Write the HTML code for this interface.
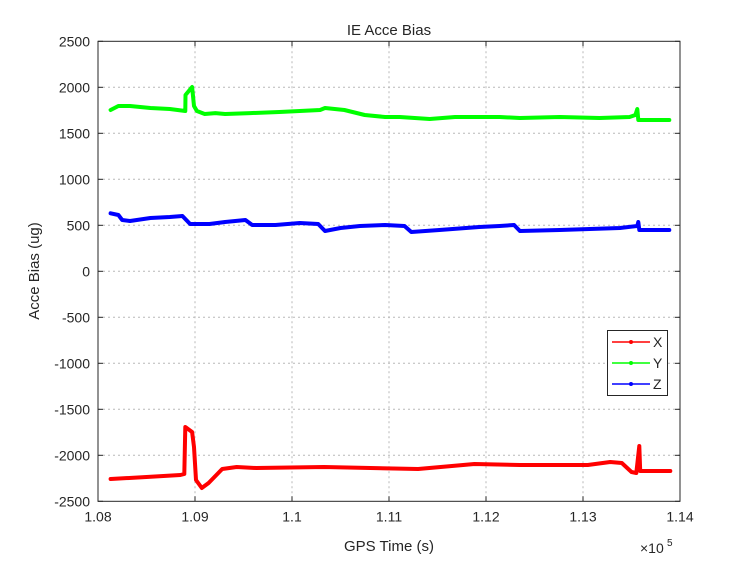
<!DOCTYPE html>
<html><head><meta charset="utf-8"><style>
body{margin:0;background:#fff;}
svg text{font-family:"Liberation Sans",Arial,sans-serif;fill:#262626;}
</style></head><body>
<svg id="chart" width="750" height="563" xmlns="http://www.w3.org/2000/svg">
<rect width="750" height="563" fill="#fff"/>
<g id="grid"></g><g id="axes"></g><g id="series"></g><g id="legend"></g>
</svg>
<script>
const xTicks=[1.08,1.09,1.10,1.11,1.12,1.13,1.14];
const xTickLabels=["1.08","1.09","1.1","1.11","1.12","1.13","1.14"];
const yTicks=[2500,2000,1500,1000,500,0,-500,-1000,-1500,-2000,-2500];
const xX=[1.0813,1.0850,1.0885,1.0889,1.0890,1.0897,1.0899,1.0901,1.0907,1.0914,1.0928,1.0943,1.0963,1.1033,1.1130,1.1188,1.1235,1.1305,1.1328,1.1340,1.1350,1.1355,1.1358,1.1359,1.1390];
const xVals=[-2258,-2236,-2214,-2203,-1692,-1747,-1910,-2268,-2355,-2301,-2149,-2127,-2138,-2127,-2149,-2095,-2105,-2105,-2073,-2084,-2182,-2192,-1899,-2171,-2171];
const yX=[1.0813,1.0821,1.0833,1.0854,1.0874,1.0890,1.08902,1.0897,1.0899,1.0902,1.0910,1.0921,1.0931,1.0957,1.0987,1.1029,1.1034,1.1054,1.1075,1.1096,1.1111,1.1142,1.1168,1.1214,1.1235,1.1276,1.1317,1.1348,1.1354,1.1356,1.1357,1.1389];
const yVals=[1753,1797,1797,1775,1764,1742,1916,2003,1797,1742,1710,1720,1710,1720,1731,1753,1775,1753,1699,1677,1677,1655,1677,1677,1666,1677,1666,1677,1699,1764,1645,1645];
const zX=[1.0813,1.0821,1.0825,1.0833,1.0854,1.0874,1.0887,1.0890,1.0895,1.0915,1.0931,1.0952,1.0959,1.0983,1.1008,1.1027,1.1034,1.1050,1.1070,1.1096,1.1116,1.1123,1.1152,1.1193,1.1214,1.1229,1.1235,1.1276,1.1338,1.1356,1.1357,1.1358,1.1389];
const zVals=[630,612,558,547,579,590,601,568,514,514,536,558,503,503,525,514,438,471,492,503,492,427,449,482,492,503,438,449,471,492,536,449,449];
const seriesNames=["X","Y","Z"];

const L=98,R=680,T=41.3,B=501.3;
const sx=v=>L+(v-1.08)/0.06*(R-L);
const sy=v=>T+(2500-v)/5000*(B-T);
const NS="http://www.w3.org/2000/svg";
function mk(tag,attrs,parent){const e=document.createElementNS(NS,tag);for(const k in attrs)e.setAttribute(k,attrs[k]);parent.appendChild(e);return e;}
const grid=document.getElementById('grid'),axes=document.getElementById('axes'),ser=document.getElementById('series'),leg=document.getElementById('legend');
mk('rect',{x:L,y:T,width:R-L,height:B-T,fill:'#fff'},grid);
xTicks.forEach((t,i)=>{
 const x=sx(t);
 if(i>0&&i<xTicks.length-1){const g=mk('line',{x1:x,x2:x,y1:T,y2:B,stroke:'#b8b8b8','stroke-dasharray':'2,3','stroke-width':1},grid);
 
 }
 mk('line',{x1:x,x2:x,y1:B,y2:B-5,stroke:'#262626'},axes);
 mk('line',{x1:x,x2:x,y1:T,y2:T+5,stroke:'#262626'},axes);
 const tx=mk('text',{x:x,y:B+20,'text-anchor':'middle','font-size':14},axes);tx.textContent=xTickLabels[i];
 
 
});
yTicks.forEach((t,i)=>{
 const y=sy(t);
 if(i>0&&i<yTicks.length-1){const g=mk('line',{x1:L,x2:R,y1:y,y2:y,stroke:'#b8b8b8','stroke-dasharray':'2,3','stroke-width':1},grid);
 
 }
 mk('line',{x1:L,x2:L+5,y1:y,y2:y,stroke:'#262626'},axes);
 mk('line',{x1:R,x2:R-5,y1:y,y2:y,stroke:'#262626'},axes);
 const tx=mk('text',{x:L-8,y:y+5,'text-anchor':'end','font-size':14},axes);tx.textContent=String(t);
 
 
});
const frame=mk('rect',{x:L,y:T,width:R-L,height:B-T,fill:'none',stroke:'#262626','stroke-width':1},axes);


const title=mk('text',{x:389,y:35,'text-anchor':'middle','font-size':15},axes);title.textContent='IE Acce Bias';


const xl=mk('text',{x:389,y:551,'text-anchor':'middle','font-size':15},axes);xl.textContent='GPS Time (s)';


const yl=mk('text',{x:39,y:271,'text-anchor':'middle','font-size':15,transform:'rotate(-90 39 271)'},axes);yl.textContent='Acce Bias (ug)';


const ex=mk('text',{x:640,y:553,'font-size':14},axes);ex.textContent='×10';


const ex2=mk('text',{x:667,y:546,'font-size':10},axes);ex2.textContent='5';
const colors=['#ff0000','#00ff00','#0000ff'];
[[xX,xVals],[yX,yVals],[zX,zVals]].forEach((s,k)=>{
 const d=s[0].map((x,i)=>(i?'L':'M')+sx(x).toFixed(1)+','+sy(s[1][i]).toFixed(1)).join(' ');
 const p=mk('path',{d:d,fill:'none',stroke:colors[k],'stroke-width':4,'stroke-linejoin':'round','stroke-linecap':'round'},ser);
 
 
});
const lb=mk('rect',{x:607.5,y:330.5,width:60,height:65,fill:'#fff',stroke:'#262626'},leg);


seriesNames.forEach((n,k)=>{
 const y=342+k*21;
 const g=mk('g',{},leg);
 
 
 mk('line',{x1:612,x2:650,y1:y,y2:y,stroke:colors[k],'stroke-width':1.5},g);
 mk('circle',{cx:631,cy:y,r:2,fill:colors[k]},g);
 const t=mk('text',{x:653,y:y+5,'font-size':14},g);t.textContent=n;
});
</script>
</body></html>
